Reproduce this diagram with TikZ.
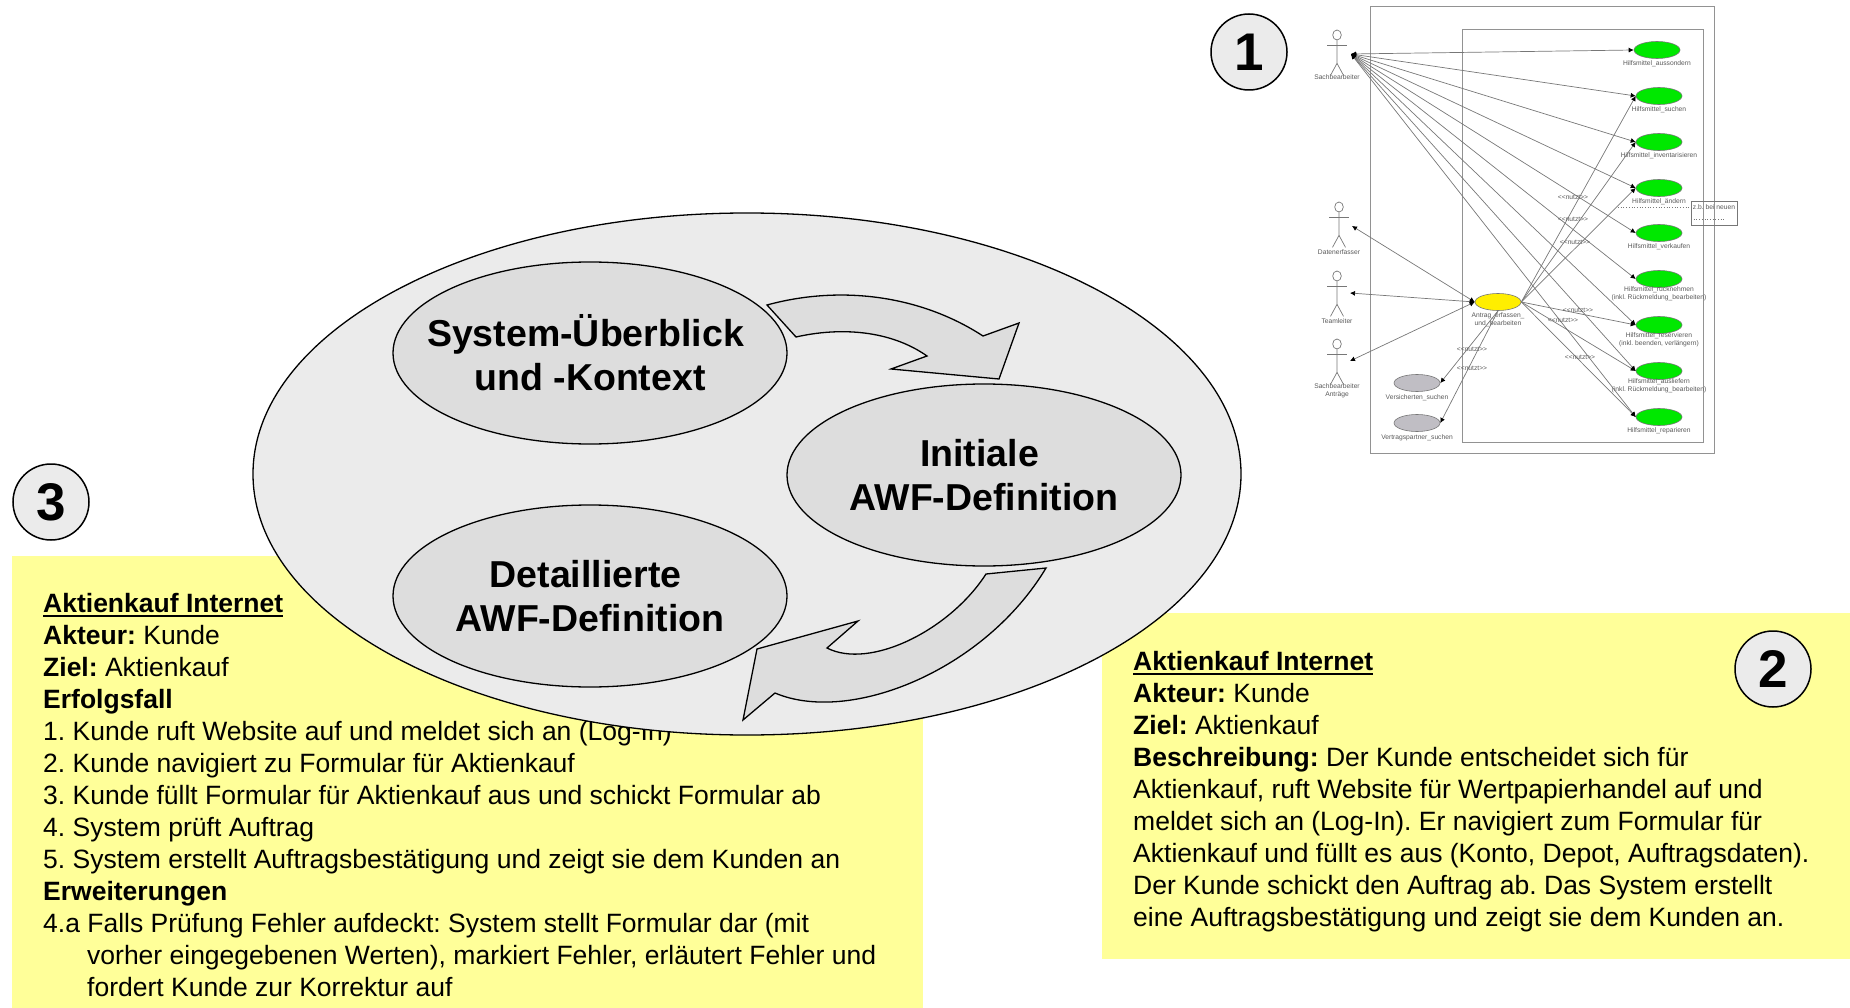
\documentclass[tikz,border=0pt]{standalone}
\usepackage{fontspec}
\setmainfont{Liberation Sans}
\usepackage{tikz}
\usetikzlibrary{arrows,arrows.meta,positioning,shapes}

\newsavebox{\headbox}
\newcommand{\headline}[1]{\sbox{\headbox}{\textbf{#1}}\usebox{\headbox}\hspace*{-\wd\headbox}\rule[-4.6pt]{\wd\headbox}{2.4pt}}

\definecolor{boxyellow}{HTML}{FFFF99}
\definecolor{outergray}{HTML}{EBEBEB}
\definecolor{innergray}{HTML}{DDDDDD}
\definecolor{umlgray}{HTML}{777777}
\definecolor{umlgreen}{HTML}{00E800}
\definecolor{umlyellow}{HTML}{FFEE00}
\definecolor{umlsilver}{HTML}{C0BEC4}

\tikzset{
  stage/.style = {draw, ellipse, fill = innergray, line width = 1.3pt, inner sep = -40pt, minimum width = 394pt, minimum height = 182pt, align = center, font = \fontsize{37.5}{44}\selectfont\bfseries},
  flow/.style = {draw, fill = innergray, line width = 1.3pt, line join = miter},
  number/.style = {draw, circle, fill = outergray, line width = 1.5pt, minimum size = 76pt, inner sep = 0pt, font = \fontsize{53}{53}\selectfont\bfseries},
  infobox/.style = {fill = boxyellow, anchor = north west, inner sep = 0pt},
  infotext/.style = {anchor = north west, inner sep = 0pt, align = left, font = \fontsize{26.5}{32}\selectfont},
  umlline/.style = {draw = umlgray, line width = 0.7pt},
  umlframe/.style = {draw = umlgray!80, line width = 1.2pt},
  assoc/.style = {umlline, {Latex[length=5pt,width=5pt,black]}-{Latex[length=5pt,width=5pt,black]}},
  nutzt/.style = {umlline, -{Latex[length=5pt,width=5pt,black]}},
  usecase/.style = {draw = umlgray, ellipse, line width = 0.6pt, minimum width = 46pt, minimum height = 17pt, inner sep = 0pt},
  actorhead/.style = {draw = umlgray, ellipse, line width = 0.7pt, minimum width = 8.6pt, minimum height = 10pt, inner sep = 0pt},
  umltext/.style = {text = black!65, align = center, inner sep = 0pt, font = \fontsize{6.7}{7.8}\selectfont},
}

\begin{document}
\frenchspacing
\begin{tikzpicture}[x = 1pt, y = -1pt]
\useasboundingbox (0,0) rectangle (1850,1008);

% yellow text boxes
\node[infobox, minimum width = 911pt, minimum height = 452pt] (boxthree) at (12,556) {};
\node[infobox, minimum width = 748pt, minimum height = 346pt] (boxtwo) at (1102,613) {};
\node[infotext] (textthree) at (43,593) {\headline{Aktienkauf Internet}\\
\textbf{Akteur:} Kunde\\
\textbf{Ziel:} Aktienkauf\\
\textbf{Erfolgsfall}\\
1. Kunde ruft Website auf und meldet sich an (Log-In)\\
2. Kunde navigiert zu Formular für Aktienkauf\\
3. Kunde füllt Formular für Aktienkauf aus und schickt Formular ab\\
4. System prüft Auftrag\\
5. System erstellt Auftragsbestätigung und zeigt sie dem Kunden an\\
\textbf{Erweiterungen}\\
4.a Falls Prüfung Fehler aufdeckt: System stellt Formular dar (mit\\
\hspace*{44pt}vorher eingegebenen Werten), markiert Fehler, erläutert Fehler und\\
\hspace*{44pt}fordert Kunde zur Korrektur auf};
\node[infotext] (texttwo) at (1133,651) {\headline{Aktienkauf Internet}\\
\textbf{Akteur:} Kunde\\
\textbf{Ziel:} Aktienkauf\\
\textbf{Beschreibung:} Der Kunde entscheidet sich für\\
Aktienkauf, ruft Website für Wertpapierhandel auf und\\
meldet sich an (Log-In). Er navigiert zum Formular für\\
Aktienkauf und füllt es aus (Konto, Depot, Auftragsdaten).\\
Der Kunde schickt den Auftrag ab. Das System erstellt\\
eine Auftragsbestätigung und zeigt sie dem Kunden an.};

% process
\node[draw, ellipse, fill = outergray, line width = 1.3pt, minimum width = 988pt, minimum height = 522pt, inner sep = 0pt] (process) at (747,474) {};
\node[stage] (overview) at (590,353) {System-Überblick\hspace*{9pt}\\und -Kontext};
\node[stage] (initial) at (984,475) {Initiale\hspace*{9pt}\\AWF-Definition};
\node[stage] (detail) at (590,596) {Detaillierte\hspace*{9pt}\\AWF-Definition};
\draw[flow] (767,305) .. controls (840,285) and (920,295) .. (983,336) -- (1019,323) -- (999,379) -- (891,369) -- (927,356) .. controls (890,330) and (840,327) .. (796,337) -- cycle;
\draw[flow] (1046,568) .. controls (985,670) and (850,725) .. (775,693) -- (743,720) -- (757,649) -- (858,621) -- (827,648) .. controls (870,670) and (950,630) .. (986,574) -- cycle;

% numbers
\node[number] (one) at (1249,52) {1};
\node[number] (two) at (1773,669) {2};
\node[number] (three) at (51,502) {3};

% use case diagram
\node[umlframe, draw, anchor = north west, minimum width = 344pt, minimum height = 447pt, inner sep = 0pt] (system) at (1370,6) {};
\node[umlframe, draw, anchor = north west, minimum width = 241pt, minimum height = 413pt, inner sep = 0pt] (subsystem) at (1462,29) {};

\foreach \name/\cx/\cy/\dy/\txt in {
  aussondern/1657/50/-2/{Hilfsmittel\_aussondern},
  suchen/1659/96/-2/{Hilfsmittel\_suchen},
  inventar/1659/142/-2/{Hilfsmittel\_inventarisieren},
  aendern/1659/188/-2/{Hilfsmittel\_ändern},
  verkaufen/1659/233/-2/{Hilfsmittel\_verkaufen},
  ruecknehmen/1659/279/1/{Hilfsmittel\_rücknehmen\\(inkl. Rückmeldung\_bearbeiten)},
  reservieren/1659/325/1/{Hilfsmittel\_reservieren\\(inkl. beenden, verlängern)},
  ausliefern/1659/371/1/{Hilfsmittel\_ausliefern\\(inkl. Rückmeldung\_bearbeiten)},
  reparieren/1659/417/-2/{Hilfsmittel\_reparieren}}{
  \node[usecase, fill = umlgreen] (\name) at (\cx,\cy) {};
  \node[umltext, anchor = north] at ([yshift = \dy pt]\name.south) {\txt};
}
\node[usecase, fill = umlyellow] (antrag) at (1498,302) {};
\node[umltext, anchor = north] at ([yshift = -2pt]antrag.south) {Antrag\_erfassen\_\\und\_bearbeiten};
\node[usecase, fill = umlsilver] (versicherten) at (1417,383) {};
\node[umltext, anchor = north] at ([yshift = -3pt]versicherten.south) {Versicherten\_suchen};
\node[usecase, fill = umlsilver] (vertragspartner) at (1417,423) {};
\node[umltext, anchor = north] at ([yshift = -3pt]vertragspartner.south) {Vertragspartner\_suchen};

\foreach \name/\cx/\cy/\dy/\txt in {
  sachbearbeiter/1337/35/-34/{Sachbearbeiter},
  datenerfasser/1339/207/-37/{Datenerfasser},
  teamleiter/1337/276/-37/{Teamleiter},
  antraege/1337/344/-34/{Sachbearbeiter\\Anträge}}{
  \node[actorhead] (\name) at (\cx,\cy) {};
  \draw[umlline] (\name.south) -- ++(0,23) -- ++(-6.5,12);
  \draw[umlline] (\name.south) ++(0,23) -- ++(6.5,12);
  \draw[umlline] (\name.south) ++(-10,5) -- ++(20,0);
  \node[umltext, anchor = north] at ([yshift = \dy pt]\name.south) {\txt};
}
\coordinate (sachtip) at (1351,54);
\coordinate (datentip) at (1352,226);
\coordinate (teamtip) at (1350,293);
\coordinate (antragtip) at (1350,361);

\foreach \name in {aussondern, suchen, inventar, aendern, verkaufen, ruecknehmen, reservieren, ausliefern, reparieren}{
  \draw[assoc] (sachtip) -- (\name.west);
}
\draw[assoc] (datentip) -- (antrag.west);
\draw[assoc] (teamtip) -- (antrag.west);
\draw[assoc] (antragtip) -- (antrag.west);
\foreach \name in {suchen, inventar, aendern, reservieren, ausliefern, reparieren}{
  \draw[nutzt] (antrag.east) -- (\name.west);
}
\draw[nutzt] (antrag.south) -- (versicherten.east);
\draw[nutzt] (antrag.south) -- (vertragspartner.east);

\foreach \name/\cx/\cy in {nutzta/1573/197, nutztb/1573/219, nutztc/1575/242, nutztd/1578/310, nutzte/1563/320, nutztf/1580/357, nutztg/1472/349, nutzth/1472/368}{
  \node[umltext] (\name) at (\cx,\cy) {<{}<nutzt>{}>};
}

\node[draw = umlgray, anchor = north west, minimum width = 46pt, minimum height = 24pt, inner sep = 0pt] (note) at (1691,201) {};
\node[umltext, anchor = north] (notetext) at (1714,204) {z.b. bei neuen};
\coordinate (notestart) at (1618,207);
\coordinate (noteend) at (1725,219);
\draw[umlline, dotted] (notestart) -- (note.west |- notestart);
\draw[umlline, dotted] (note.west |- noteend) -- (noteend);
\end{tikzpicture}
\end{document}
